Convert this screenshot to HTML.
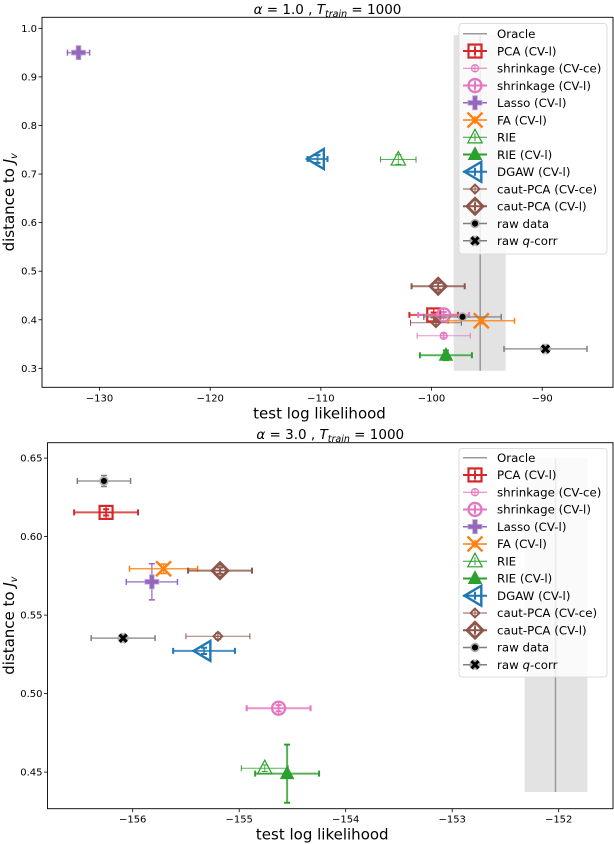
<!DOCTYPE html>
<html><head><meta charset="utf-8"><style>
html,body{margin:0;padding:0;background:#fff;}
svg{display:block;font-family:"DejaVu Sans","Liberation Sans",sans-serif;}
</style></head><body>
<svg id="chart" width="614" height="844" viewBox="0 0 614 844" xmlns="http://www.w3.org/2000/svg"></svg>
<script>
// ---- data: top panel (alpha=1.0) ----
const seriesNames = ["PCA (CV-l)","shrinkage (CV-ce)","shrinkage (CV-l)","Lasso (CV-l)","FA (CV-l)","RIE","RIE (CV-l)","DGAW (CV-l)","caut-PCA (CV-ce)","caut-PCA (CV-l)","raw data","raw q-corr"];
const topX   = [-99.8,-98.9,-98.9,-131.9,-95.5,-103.0,-98.7,-110.3,-99.6,-99.4,-97.2,-89.7];
const topY   = [0.41,0.367,0.41,0.95,0.398,0.73,0.327,0.731,0.394,0.469,0.406,0.34];
const topXerr= [2.2,2.4,2.3,1.0,3.0,1.6,2.35,0.9,2.3,2.4,3.5,3.75];
const topYerr= [0.005,0.004,0.006,0.005,0.006,0.01,0.01,0.008,0.004,0.007,0.004,0.004];
const topOracle = [-95.6,-98.0,-93.3,0.295,0.986];
const topXTicks = [-130,-120,-110,-100,-90];
const topYTicks = [0.3,0.4,0.5,0.6,0.7,0.8,0.9,1.0];
// ---- data: bottom panel (alpha=3.0) ----
const botX   = [-156.25,null,-154.63,-155.82,-155.71,-154.76,-154.55,-155.33,-155.20,-155.18,-156.27,-156.09];
const botY   = [0.6154,null,0.4907,0.5712,0.5795,0.4525,0.449,0.5272,0.5365,0.5783,0.6354,0.5353];
const botXerr= [0.3,0,0.3,0.24,0.32,0.22,0.3,0.29,0.3,0.3,0.25,0.3];
const botYerr= [0.002,0,0.002,0.0115,0.003,0.002,0.0185,0.002,0.002,0.002,0.0035,0.002];
const botOracle = [-152.03,-152.32,-151.73,0.4373,0.65];
const botXTicks = [-156,-155,-154,-153,-152];
const botYTicks = [0.45,0.50,0.55,0.60,0.65];

const C={blue:"#1f77b4",orange:"#ff7f0e",green:"#2ca02c",red:"#d62728",purple:"#9467bd",brown:"#8c564b",pink:"#e377c2",gray:"#7f7f7f"};
const styles=[
 {c:C.red,m:"sqplus",s:13,lw:2,cap:2},
 {c:C.pink,m:"circplus",s:7,lw:1,cap:1,dash:"3,2"},
 {c:C.pink,m:"circplus",s:13,lw:2,cap:2},
 {c:C.purple,m:"P",s:14,lw:1.5,cap:1.5},
 {c:C.orange,m:"X",s:15,lw:1.5,cap:1.5},
 {c:C.green,m:"tri",s:16,lw:1,cap:1},
 {c:C.green,m:"trif",s:14,lw:2,cap:2},
 {c:C.blue,m:"tril",s:21,lw:2,cap:2},
 {c:C.brown,m:"dia",s:9,lw:1,cap:1},
 {c:C.brown,m:"dia",s:16,lw:2,cap:2},
 {c:"#000",m:"dot",s:11,lw:1.5,cap:1.5,ec:C.gray},
 {c:"#000",m:"xk",s:12,lw:1.5,cap:1.5,ec:C.gray}
];
const svg=document.getElementById('chart');
const NS="http://www.w3.org/2000/svg";
function el(t,a,p){const e=document.createElementNS(NS,t);for(const k in a)e.setAttribute(k,a[k]);(p||svg).appendChild(e);return e;}

function marker(g,st,cx,cy,scale){
  const s=st.s*(scale||1),h=s/2,c=st.c;
  let e;
  if(st.m==="sqplus"){
    e=el('rect',{x:cx-h,y:cy-h,width:s,height:s,fill:'none',stroke:c,'stroke-width':2.2},g);
    el('path',{d:`M${cx-h} ${cy}H${cx+h}M${cx} ${cy-h}V${cy+h}`,stroke:c,'stroke-width':1.2},g);
  }else if(st.m==="circplus"){
    e=el('circle',{cx:cx,cy:cy,r:h,fill:'none',stroke:c,'stroke-width':st.lw+0.3},g);
    el('path',{d:`M${cx-h} ${cy}H${cx+h}M${cx} ${cy-h}V${cy+h}`,stroke:c,'stroke-width':1},g);
  }else if(st.m==="P"){
    const a=h/3;
    e=el('path',{d:`M${cx-a} ${cy-h}H${cx+a}V${cy-a}H${cx+h}V${cy+a}H${cx+a}V${cy+h}H${cx-a}V${cy+a}H${cx-h}V${cy-a}H${cx-a}Z`,fill:c,stroke:'#b9a3d9','stroke-width':0.8},g);
  }else if(st.m==="X"){
    e=el('path',{d:`M${cx-h} ${cy-h}L${cx+h} ${cy+h}M${cx-h} ${cy+h}L${cx+h} ${cy-h}`,stroke:c,'stroke-width':2.4},g);
  }else if(st.m==="tri"||st.m==="trif"){
    e=el('path',{d:`M${cx} ${cy-h}L${cx+h*0.9} ${cy+h*0.7}L${cx-h*0.9} ${cy+h*0.7}Z`,fill:st.m==="trif"?c:'none',stroke:c,'stroke-width':1.2},g);
  }else if(st.m==="tril"){
    e=el('path',{d:`M${cx-h} ${cy}L${cx+h*0.6} ${cy-h*0.95}L${cx+h*0.6} ${cy+h*0.95}Z`,fill:'none',stroke:c,'stroke-width':2.4},g);
  }else if(st.m==="dia"){
    e=el('path',{d:`M${cx} ${cy-h}L${cx+h} ${cy}L${cx} ${cy+h}L${cx-h} ${cy}Z`,fill:'none',stroke:c,'stroke-width':st.lw+0.8},g);
    el('path',{d:`M${cx-h} ${cy}H${cx+h}M${cx} ${cy-h}V${cy+h}`,stroke:c,'stroke-width':1},g);
  }else if(st.m==="dot"){
    e=el('circle',{cx:cx,cy:cy,r:h*0.7,fill:'#000',stroke:'#aaa','stroke-width':1.6},g);
  }else if(st.m==="xk"){
    el('path',{d:`M${cx-h*0.6} ${cy-h*0.6}L${cx+h*0.6} ${cy+h*0.6}M${cx-h*0.6} ${cy+h*0.6}L${cx+h*0.6} ${cy-h*0.6}`,stroke:'#aaa','stroke-width':6},g);
    e=el('path',{d:`M${cx-h*0.6} ${cy-h*0.6}L${cx+h*0.6} ${cy+h*0.6}M${cx-h*0.6} ${cy+h*0.6}L${cx+h*0.6} ${cy-h*0.6}`,stroke:'#000','stroke-width':3},g);
  }
  return e;
}

function panel(cfg){
  const {L,R,T,B,x0,x1,y0,y1,X,Y,XE,YE,oracle,xt,yt,title,name,legY,legTop,legBot,xfmt,yfmt}=cfg;
  const sx=v=>L+(v-x0)/(x1-x0)*(R-L);
  const sy=v=>B-(v-y0)/(y1-y0)*(B-T);
  const g=el('g',{});
  
  
  const band=el('rect',{x:sx(oracle[1]),y:sy(oracle[4]),width:sx(oracle[2])-sx(oracle[1]),height:sy(oracle[3])-sy(oracle[4]),fill:'#e3e3e3'},g);
  
  const ol=el('line',{x1:sx(oracle[0]),x2:sx(oracle[0]),y1:sy(oracle[3]),y2:sy(oracle[4]),stroke:'#999','stroke-width':1.5},g);
  
  for(let i=0;i<seriesNames.length;i++){
    if(X[i]===null)continue;
    const st=styles[i],cx=sx(X[i]),cy=sy(Y[i]);
    const sg=el('g',{},g);
    
    
    const ec=st.ec||st.c;
    const xl=sx(X[i]-XE[i]),xr=sx(X[i]+XE[i]),yt_=sy(Y[i]+YE[i]),yb=sy(Y[i]-YE[i]);
    el('line',{x1:xl,x2:xr,y1:cy,y2:cy,stroke:ec,'stroke-width':st.lw,opacity:0.8},sg);
    el('line',{x1:cx,x2:cx,y1:yt_,y2:yb,stroke:ec,'stroke-width':st.lw,opacity:0.8},sg);
    el('path',{d:`M${xl} ${cy-3}V${cy+3}M${xr} ${cy-3}V${cy+3}M${cx-3} ${yt_}H${cx+3}M${cx-3} ${yb}H${cx+3}`,stroke:ec,'stroke-width':st.cap},sg);
    marker(sg,st,cx,cy);
  }
  el('rect',{x:L,y:T,width:R-L,height:B-T,fill:'none',stroke:'#000','stroke-width':0.9},g);
  xt.forEach(v=>{const x=sx(v);el('line',{x1:x,x2:x,y1:B,y2:B+3.5,stroke:'#000','stroke-width':0.8},g);
    const t=el('text',{x:x,y:B+14,'font-size':10,'text-anchor':'middle'},g);t.textContent=xfmt(v);
    });
  yt.forEach(v=>{const y=sy(v);el('line',{x1:L-3.5,x2:L,y1:y,y2:y,stroke:'#000','stroke-width':0.8},g);
    const t=el('text',{x:L-5,y:y+3.5,'font-size':10,'text-anchor':'end'},g);t.textContent=yfmt(v);
    });
  const xl=el('text',{x:(L+R)/2-8,y:B+31,'font-size':15,'text-anchor':'middle'},g);xl.textContent='test log likelihood';
  
  const yl=el('text',{transform:`translate(14 ${(T+B)/2}) rotate(-90)`,'font-size':15,'text-anchor':'middle'},g);
  yl.innerHTML='distance to <tspan font-style="italic">J</tspan><tspan font-style="italic" font-size="9.5" dy="3">v</tspan>';
  
  const ti=el('text',{x:(L+R)/2,y:T-3.5,'font-size':13.5,'text-anchor':'middle'},g);
  ti.innerHTML=title;
  
  const lg=el('g',{},g);
  
  el('rect',{x:459,y:legTop,width:148,height:legBot-legTop,rx:3,fill:'#fff','fill-opacity':0.8,stroke:'#ddd','stroke-width':1},lg);
  const names=['Oracle'].concat(seriesNames);
  names.forEach((n,k)=>{
    const y=legY+k*17.25;
    const eg=el('g',{},lg);
    
    if(k===0){el('line',{x1:463,x2:487,y1:y,y2:y,stroke:'#999','stroke-width':1.5},eg);}
    else{const st=styles[k-1];const ec=st.ec||st.c;
      el('line',{x1:463,x2:487,y1:y,y2:y,stroke:ec,'stroke-width':st.lw},eg);
      el('line',{x1:475,x2:475,y1:y-4,y2:y+4,stroke:ec,'stroke-width':st.lw},eg);
      marker(eg,st,475,y);}
    const t=el('text',{x:497,y:y+4.2,'font-size':11.8},eg);
    if(n==='raw q-corr')t.innerHTML='raw <tspan font-style="italic">q</tspan>-corr';else t.textContent=n;
  });
}
panel({L:42,R:613,T:17.3,B:387.3,x0:-135.2,x1:-83.6,y0:0.261,y1:1.0227,X:topX,Y:topY,XE:topXerr,YE:topYerr,oracle:topOracle,xt:topXTicks,yt:topYTicks,
  title:'<tspan font-style="italic">α</tspan> =  1.0 , <tspan font-style="italic">T</tspan><tspan font-style="italic" font-size="9.5" dy="3">train</tspan><tspan dy="-3"> =  1000</tspan>',
  name:'top-panel-alpha-1',legY:33.8,legTop:23.5,legBot:254,xfmt:v=>'\u2212'+Math.abs(v),yfmt:v=>v.toFixed(1)});
panel({L:47.5,R:613,T:442.7,B:808.7,x0:-156.8,x1:-151.49,y0:0.4267,y1:0.6598,X:botX,Y:botY,XE:botXerr,YE:botYerr,oracle:botOracle,xt:botXTicks,yt:botYTicks,
  title:'<tspan font-style="italic">α</tspan> =  3.0 , <tspan font-style="italic">T</tspan><tspan font-style="italic" font-size="9.5" dy="3">train</tspan><tspan dy="-3"> =  1000</tspan>',
  name:'bottom-panel-alpha-3',legY:457.7,legTop:448.5,legBot:677,xfmt:v=>'\u2212'+Math.abs(v),yfmt:v=>v.toFixed(2)});
</script>
</body></html>
